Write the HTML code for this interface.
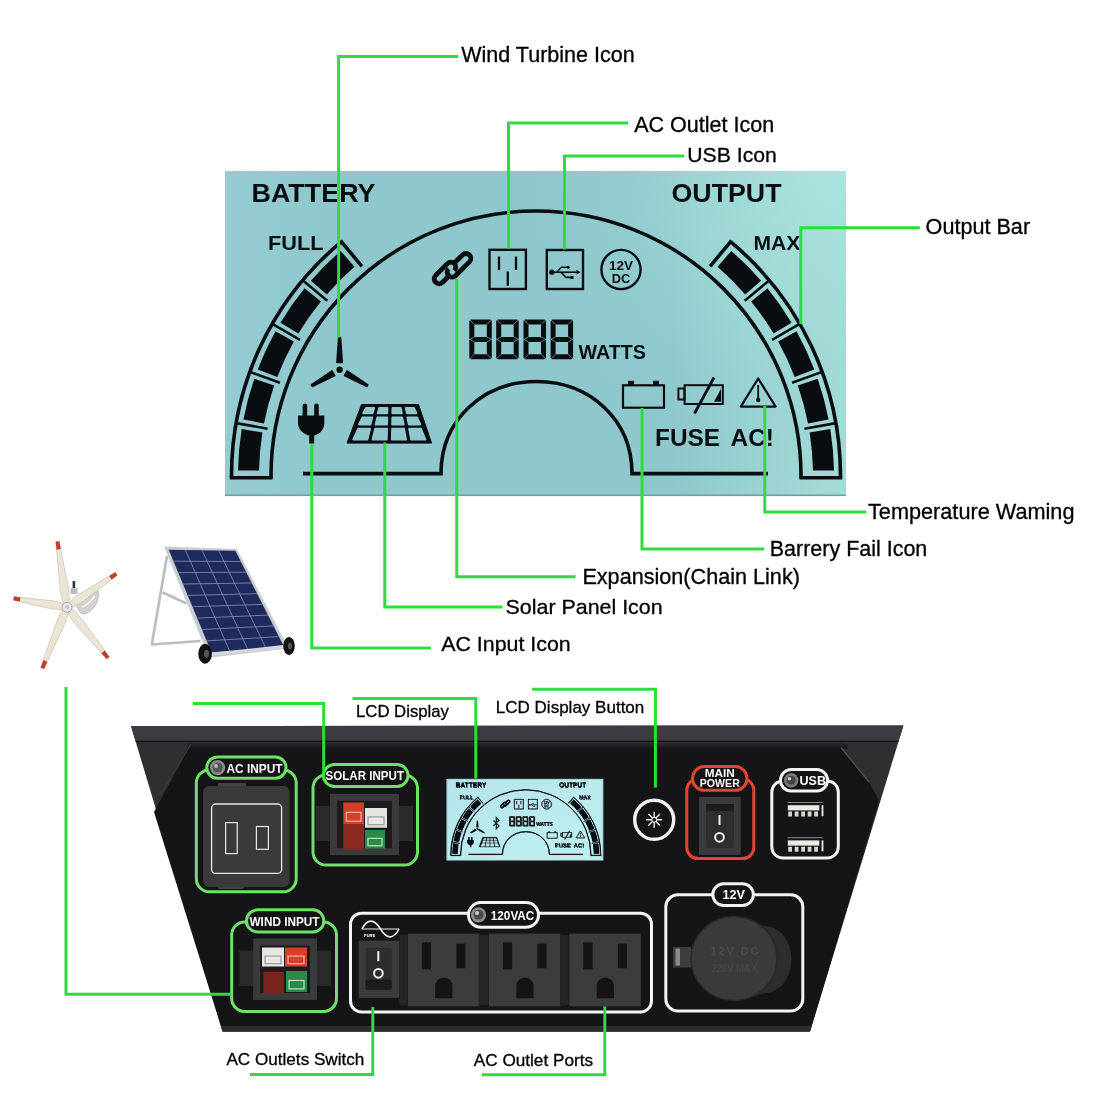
<!DOCTYPE html><html><head><meta charset="utf-8"><style>html,body{margin:0;padding:0;background:#fff;}svg{display:block;will-change:transform}.lb{stroke:#0a0d10;stroke-width:3.6;fill:none}.ld{stroke:#0a0d10;stroke-width:2.6;fill:none}.li{stroke:#0a0d10;stroke-width:2.4}.b{font-family:"Liberation Sans",sans-serif;font-weight:700;fill:#0a0d10}.lab{font-family:"Liberation Sans",sans-serif;font-weight:400;fill:#000;stroke:#000;stroke-width:0.3}.gl{stroke:#2edc3c;stroke-width:3;fill:none;stroke-linecap:square}.cell{fill:var(--cell);stroke:var(--cell);stroke-width:2;stroke-linejoin:round}.gapl{stroke:var(--cell)}.wt{font-family:"Liberation Sans",sans-serif;font-weight:700;fill:#fff}</style></head><body>
<svg width="1096" height="1096" viewBox="0 0 1096 1096">
<defs><linearGradient id="lcdg" x1="0" y1="1" x2="1" y2="0"><stop offset="0" stop-color="#93cbd1"/><stop offset="0.45" stop-color="#8cc5c8"/><stop offset="1" stop-color="#a8e1dc"/></linearGradient><linearGradient id="slcd" x1="0" y1="0" x2="1" y2="1"><stop offset="0" stop-color="#b4e4ea"/><stop offset="1" stop-color="#bff0f0"/></linearGradient><g id="lcdart"><path d="M231.5,477.8 L231.5,476.0 A304.5,304.5 0 0 1 341.5,241.7" class="lb"/>
<line x1="340.5" y1="240.6" x2="361.9" y2="266.3" class="lb"/>
<line x1="229.8" y1="477.8" x2="272.7" y2="477.8" class="lb"/>
<line x1="236.1" y1="423.1" x2="267.6" y2="428.7" class="ld"/>
<line x1="249.9" y1="371.9" x2="279.9" y2="382.8" class="ld"/>
<line x1="272.3" y1="323.8" x2="300.0" y2="339.8" class="ld"/>
<line x1="302.7" y1="280.3" x2="327.3" y2="300.8" class="ld"/>
<path d="M238.0,470.5 A298,298 0 0 1 241.7,429.1 L262.4,432.4 A277,277 0 0 0 259.0,470.5 Z" fill="#0a0d10"/>
<path d="M243.4,419.4 A298,298 0 0 1 254.3,378.7 L274.2,385.6 A277,277 0 0 0 264.0,423.4 Z" fill="#0a0d10"/>
<path d="M257.7,369.4 A298,298 0 0 1 275.5,331.3 L293.8,341.5 A277,277 0 0 0 277.3,377.0 Z" fill="#0a0d10"/>
<path d="M280.4,322.7 A298,298 0 0 1 304.6,288.3 L320.9,301.5 A277,277 0 0 0 298.4,333.5 Z" fill="#0a0d10"/>
<path d="M310.9,280.7 A298,298 0 0 1 340.7,250.9 L354.5,266.8 A277,277 0 0 0 326.8,294.5 Z" fill="#0a0d10"/>
<path d="M840.5,477.8 L840.5,476.0 A304.5,304.5 0 0 0 730.5,241.7" class="lb"/>
<line x1="731.5" y1="240.6" x2="710.1" y2="266.3" class="lb"/>
<line x1="842.2" y1="477.8" x2="799.3" y2="477.8" class="lb"/>
<line x1="835.9" y1="423.1" x2="804.4" y2="428.7" class="ld"/>
<line x1="822.1" y1="371.9" x2="792.1" y2="382.8" class="ld"/>
<line x1="799.7" y1="323.8" x2="772.0" y2="339.8" class="ld"/>
<line x1="769.3" y1="280.3" x2="744.7" y2="300.8" class="ld"/>
<path d="M834.0,470.5 A298,298 0 0 0 830.3,429.1 L809.6,432.4 A277,277 0 0 1 813.0,470.5 Z" fill="#0a0d10"/>
<path d="M828.6,419.4 A298,298 0 0 0 817.7,378.7 L797.8,385.6 A277,277 0 0 1 808.0,423.4 Z" fill="#0a0d10"/>
<path d="M814.3,369.4 A298,298 0 0 0 796.5,331.3 L778.2,341.5 A277,277 0 0 1 794.7,377.0 Z" fill="#0a0d10"/>
<path d="M791.6,322.7 A298,298 0 0 0 767.4,288.3 L751.1,301.5 A277,277 0 0 1 773.6,333.5 Z" fill="#0a0d10"/>
<path d="M761.1,280.7 A298,298 0 0 0 731.3,250.9 L717.5,266.8 A277,277 0 0 1 745.2,294.5 Z" fill="#0a0d10"/>
<path d="M271,477.8 L271,476 A265,265 0 0 1 801,476 L801,477.8" class="lb"/>
<path d="M303,473.6 L441,473.6 C441,420 483,381.5 536.5,381.5 C590,381.5 632,420 632,473.6 L768,473.6" class="lb" stroke-width="3.6"/>
<text x="251.5" y="201.6" class="b" font-size="26.6" textLength="124" lengthAdjust="spacingAndGlyphs">BATTERY</text>
<text x="671.5" y="201.5" class="b" font-size="26.1" textLength="110" lengthAdjust="spacingAndGlyphs">OUTPUT</text>
<text x="268" y="250" class="b" font-size="21" textLength="55.5" lengthAdjust="spacingAndGlyphs">FULL</text>
<text x="753.5" y="249.9" class="b" font-size="20" textLength="46.8" lengthAdjust="spacingAndGlyphs">MAX</text>
<text x="578.5" y="358.8" class="b" font-size="20.5" textLength="67.5" lengthAdjust="spacingAndGlyphs">WATTS</text>
<text x="655" y="446.2" class="b" font-size="23.6" textLength="65" lengthAdjust="spacingAndGlyphs">FUSE</text>
<text x="730.5" y="446.2" class="b" font-size="23.4" textLength="43.5" lengthAdjust="spacingAndGlyphs">AC!</text>
<g fill="#0a0d10"><path d="M471.3,319.5 H489.8 Q491.8,319.5 491.8,321.5 V357.2 Q491.8,359.2 489.8,359.2 H471.3 Q469.3,359.2 469.3,357.2 V321.5 Q469.3,319.5 471.3,319.5 Z M474.3,324.5 V336.9 H486.8 V324.5 Z M474.3,341.9 V354.2 H486.8 V341.9 Z" fill-rule="evenodd"/><path d="M469.3,319.5 L474.3,324.5 M491.8,319.5 L486.8,324.5 M469.3,359.2 L474.3,354.2 M491.8,359.2 L486.8,354.2 M469.3,339.2 L474.3,341.9 M469.3,339.6 L474.3,336.9 M491.8,339.2 L486.8,341.9 M491.8,339.6 L486.8,336.9" class="gapl" stroke-width="0.6" fill="none"/><path d="M498.2,319.5 H516.7 Q518.7,319.5 518.7,321.5 V357.2 Q518.7,359.2 516.7,359.2 H498.2 Q496.2,359.2 496.2,357.2 V321.5 Q496.2,319.5 498.2,319.5 Z M501.2,324.5 V336.9 H513.7 V324.5 Z M501.2,341.9 V354.2 H513.7 V341.9 Z" fill-rule="evenodd"/><path d="M496.2,319.5 L501.2,324.5 M518.7,319.5 L513.7,324.5 M496.2,359.2 L501.2,354.2 M518.7,359.2 L513.7,354.2 M496.2,339.2 L501.2,341.9 M496.2,339.6 L501.2,336.9 M518.7,339.2 L513.7,341.9 M518.7,339.6 L513.7,336.9" class="gapl" stroke-width="0.6" fill="none"/><path d="M525.5,319.5 H544.0 Q546.0,319.5 546.0,321.5 V357.2 Q546.0,359.2 544.0,359.2 H525.5 Q523.5,359.2 523.5,357.2 V321.5 Q523.5,319.5 525.5,319.5 Z M528.5,324.5 V336.9 H541.0 V324.5 Z M528.5,341.9 V354.2 H541.0 V341.9 Z" fill-rule="evenodd"/><path d="M523.5,319.5 L528.5,324.5 M546.0,319.5 L541.0,324.5 M523.5,359.2 L528.5,354.2 M546.0,359.2 L541.0,354.2 M523.5,339.2 L528.5,341.9 M523.5,339.6 L528.5,336.9 M546.0,339.2 L541.0,341.9 M546.0,339.6 L541.0,336.9" class="gapl" stroke-width="0.6" fill="none"/><path d="M552.6,319.5 H571.1 Q573.1,319.5 573.1,321.5 V357.2 Q573.1,359.2 571.1,359.2 H552.6 Q550.6,359.2 550.6,357.2 V321.5 Q550.6,319.5 552.6,319.5 Z M555.6,324.5 V336.9 H568.1 V324.5 Z M555.6,341.9 V354.2 H568.1 V341.9 Z" fill-rule="evenodd"/><path d="M550.6,319.5 L555.6,324.5 M573.1,319.5 L568.1,324.5 M550.6,359.2 L555.6,354.2 M573.1,359.2 L568.1,354.2 M550.6,339.2 L555.6,341.9 M550.6,339.6 L555.6,336.9 M573.1,339.2 L568.1,341.9 M573.1,339.6 L568.1,336.9" class="gapl" stroke-width="0.6" fill="none"/></g>
<rect x="489.5" y="249.8" width="36.4" height="39.2" fill="none" class="li"/>
<path d="M499,256.6 V270 M516,256.6 V270 M507.8,271.6 V285.7" stroke="#0a0d10" stroke-width="2.3" fill="none"/>
<rect x="546.8" y="250" width="36.2" height="39" fill="none" class="li"/>
<g stroke="#0a0d10" stroke-width="1.6" fill="none"><path d="M552,272.2 H578"/><path d="M556.5,272.2 L561.5,267.3 H567.5"/><path d="M561,272.2 L566,277.4 H571.5"/></g>
<g fill="#0a0d10"><circle cx="551.8" cy="272.2" r="2.6"/><circle cx="568.2" cy="267.2" r="1.5"/><rect x="570.5" y="276" width="3" height="3"/><path d="M576.5,269.8 L580.5,272.2 L576.5,274.6 Z"/></g>
<circle cx="621" cy="269.5" r="19.6" fill="none" class="li"/>
<text x="621" y="269.6" class="b" font-size="13.4" text-anchor="middle" textLength="24" lengthAdjust="spacingAndGlyphs">12V</text>
<text x="621" y="283.2" class="b" font-size="12.8" text-anchor="middle">DC</text>
<g transform="translate(452.2 269.3) rotate(-45)" fill="none" stroke="#0a0d10" stroke-width="4.8"><path d="M3.5,-2.9000000000000004 L17.4,-2.9000000000000004 A4.9,4.9 0 0 1 17.4,6.9 L-2.2,6.9 A4.9,4.9 0 0 1 -2.2,-2.9000000000000004"/><path d="M-4.5,2.4000000000000004 L-16.0,2.4000000000000004 A4.9,4.9 0 0 1 -16.0,-7.4 L0.6,-7.4 A4.9,4.9 0 0 1 0.6,2.4000000000000004"/></g>
<g fill="#0a0d10"><circle cx="339.6" cy="369.7" r="3.2"/><path id="wb" d="M338.6,337.6 L340.6,337.6 L342.4,362.6 L336.8,362.6 Z" stroke="#0a0d10" stroke-width="1.4" stroke-linejoin="round"/><use href="#wb" transform="rotate(120 339.6 369.7)"/><use href="#wb" transform="rotate(240 339.6 369.7)"/></g>
<g fill="#0a0d10"><rect x="302.6" y="403.5" width="4.6" height="14" rx="2.3"/><rect x="314.2" y="403.5" width="4.6" height="14" rx="2.3"/><path d="M298,415.5 H324.3 V423 C324.3,430 319,434.5 314.2,435.5 V443.5 H309.2 V435.5 C304,434.5 298,430 298,423 Z"/></g>
<path d="M361.5,404.5 H418.5 L431.6,443.1 H347 Z" fill="#0a0d10" stroke="#0a0d10" stroke-width="1" stroke-linejoin="round"/><path d="M366.0,407.9 L374.1,407.9 L372.6,413.2 L363.3,413.2 Z" class="cell"/><path d="M379.3,407.9 L387.4,407.9 L387.2,413.2 L377.8,413.2 Z" class="cell"/><path d="M392.6,407.9 L400.6,407.9 L401.8,413.2 L392.4,413.2 Z" class="cell"/><path d="M405.8,407.9 L413.9,407.9 L416.4,413.2 L407.0,413.2 Z" class="cell"/><path d="M362.4,417.6 L372.2,417.6 L370.4,424.4 L359.0,424.4 Z" class="cell"/><path d="M377.4,417.6 L387.2,417.6 L387.0,424.4 L375.6,424.4 Z" class="cell"/><path d="M392.4,417.6 L402.2,417.6 L403.6,424.4 L392.2,424.4 Z" class="cell"/><path d="M407.4,417.6 L417.2,417.6 L420.2,424.4 L408.8,424.4 Z" class="cell"/><path d="M358.1,428.8 L370.0,428.8 L367.4,439.6 L353.3,439.6 Z" class="cell"/><path d="M375.2,428.8 L387.0,428.8 L386.7,439.6 L372.6,439.6 Z" class="cell"/><path d="M392.2,428.8 L404.0,428.8 L406.0,439.6 L391.9,439.6 Z" class="cell"/><path d="M409.2,428.8 L421.0,428.8 L425.4,439.6 L411.2,439.6 Z" class="cell"/>
<rect x="623" y="385.3" width="41" height="22.4" fill="none" stroke="#0a0d10" stroke-width="2.2"/><rect x="628" y="380.8" width="6" height="4" fill="#0a0d10"/><rect x="653" y="380.8" width="6" height="4" fill="#0a0d10"/>
<rect x="684.6" y="385.2" width="38.2" height="18.8" fill="none" stroke="#0a0d10" stroke-width="2"/><rect x="678.4" y="388.5" width="6" height="11" fill="none" stroke="#0a0d10" stroke-width="2"/><path d="M714,401.8 L721,388.8 L721,401.8 Z" fill="#0a0d10"/><path d="M714,377.5 L694.5,413.5" stroke="#0a0d10" stroke-width="2.8"/>
<path d="M758.2,378.5 L775.6,406.6 L740.8,406.6 Z" fill="none" stroke="#0a0d10" stroke-width="2.2" stroke-linejoin="round"/><path d="M758.2,385 V398" stroke="#0a0d10" stroke-width="1.8"/><circle cx="758.2" cy="400" r="2.2" fill="#0a0d10"/></g><linearGradient id="lcdh" x1="0" y1="0" x2="1" y2="0"><stop offset="0" stop-color="#94ccd2"/><stop offset="0.15" stop-color="#8ec8cc"/><stop offset="0.72" stop-color="#8ec8cc"/><stop offset="1" stop-color="#a4ddd8"/></linearGradient><radialGradient id="lcdr" gradientUnits="userSpaceOnUse" cx="846" cy="171" r="330"><stop offset="0" stop-color="#aae4de" stop-opacity="1"/><stop offset="0.45" stop-color="#a2dcd8" stop-opacity="0.6"/><stop offset="1" stop-color="#8ec8cc" stop-opacity="0"/></radialGradient><linearGradient id="bevg" x1="0" y1="0" x2="0" y2="1"><stop offset="0" stop-color="#2e2e30"/><stop offset="1" stop-color="#151517"/></linearGradient></defs>
<rect x="0" y="0" width="1096" height="1096" fill="#fff"/>
<rect x="225" y="171" width="621" height="325" fill="url(#lcdh)"/>
<rect x="225" y="171" width="621" height="325" fill="url(#lcdr)"/>
<rect x="225" y="494.5" width="621" height="1.6" fill="#7a9a9c"/>
<use href="#lcdart" style="--cell:#8ec8cc"/>
<path d="M456.7,56.6 L338.6,56.6 L338.6,336" class="gl"/>
<path d="M626.6,123 L508.5,123 L508.5,247" class="gl"/>
<path d="M682.7,156.1 L564.5,156.1 L564.5,248" class="gl"/>
<path d="M918.4,227.8 L800.8,227.8 L800.8,322.5" class="gl"/>
<path d="M311.8,445.5 L311.8,647.9 L429.4,647.9" class="gl"/>
<path d="M384.8,444 L384.8,607 L501,607" class="gl"/>
<path d="M456.8,280 L456.8,576.7 L574,576.7" class="gl"/>
<path d="M642,409.5 L642,549 L762.7,549" class="gl"/>
<path d="M764.8,407.5 L764.8,512 L864.7,512" class="gl"/>
<text x="461.2" y="61.8" class="lab" font-size="21.3" textLength="173.5" lengthAdjust="spacingAndGlyphs">Wind Turbine Icon</text>
<text x="634.2" y="132.2" class="lab" font-size="21.2" textLength="140" lengthAdjust="spacingAndGlyphs">AC Outlet Icon</text>
<text x="687.3" y="161.8" class="lab" font-size="20.8" textLength="89.5" lengthAdjust="spacingAndGlyphs">USB Icon</text>
<text x="925.6" y="234.4" class="lab" font-size="21.2" textLength="104.5" lengthAdjust="spacingAndGlyphs">Output Bar</text>
<text x="868" y="519.1" class="lab" font-size="21.4" textLength="206.5" lengthAdjust="spacingAndGlyphs">Temperature Waming</text>
<text x="769.8" y="555.6" class="lab" font-size="21.2" textLength="157.5" lengthAdjust="spacingAndGlyphs">Barrery Fail Icon</text>
<text x="582.4" y="583.5" class="lab" font-size="21.4" textLength="217.5" lengthAdjust="spacingAndGlyphs">Expansion(Chain Link)</text>
<text x="505.6" y="614.2" class="lab" font-size="21.1" textLength="157" lengthAdjust="spacingAndGlyphs">Solar Panel Icon</text>
<text x="441.2" y="651" class="lab" font-size="21.1" textLength="129.5" lengthAdjust="spacingAndGlyphs">AC Input Icon</text>
<g><path d="M76,604 C84,601 92,594 98,591 C100,600 94,612 84,614 C80,614 78,610 76,604 Z" fill="#d2d2d2" stroke="#b0b0b0" stroke-width="0.8"/><path d="M82,607 C87,605 92,600 95,596" stroke="#f4f4f4" stroke-width="1.6" fill="none"/><rect x="72.6" y="581" width="2.6" height="10" fill="#333"/><rect x="70.5" y="588" width="7" height="6" fill="#bbb"/><path d="M69.4,602.9 L68.8,590.2 L64.3,567.4 L59.3,541.2 L55.7,541.8 L58.3,568.2 L60.5,591.5 L63.5,603.8 Z" fill="#ebe5d5" stroke="#c9c0aa" stroke-width="0.7" stroke-linejoin="round"/><path d="M60.7,549.1 L59.3,541.2 L55.7,541.8 L56.6,549.7 Z" fill="#c23a2e"/><path d="M71.6,607.8 L81.7,602.4 L98.3,589.7 L117.3,575.3 L115.3,572.3 L94.9,584.7 L77.0,595.5 L68.3,602.8 Z" fill="#ebe5d5" stroke="#c9c0aa" stroke-width="0.7" stroke-linejoin="round"/><path d="M111.6,579.6 L117.3,575.3 L115.3,572.3 L109.2,576.1 Z" fill="#c23a2e"/><path d="M67.1,612.2 L74.0,622.6 L89.3,639.6 L106.6,659.1 L109.4,656.9 L93.9,635.8 L80.5,617.3 L71.8,608.5 Z" fill="#ebe5d5" stroke="#c9c0aa" stroke-width="0.7" stroke-linejoin="round"/><path d="M101.4,653.2 L106.6,659.1 L109.4,656.9 L104.7,650.6 Z" fill="#c23a2e"/><path d="M62.7,609.8 L57.0,621.0 L49.5,642.7 L40.7,667.5 L44.1,668.9 L55.0,645.0 L64.7,624.1 L68.3,612.1 Z" fill="#ebe5d5" stroke="#c9c0aa" stroke-width="0.7" stroke-linejoin="round"/><path d="M43.4,660.1 L40.7,667.5 L44.1,668.9 L47.3,661.7 Z" fill="#c23a2e"/><path d="M64.3,603.8 L54.4,600.9 L35.5,599.0 L14.0,596.6 L13.4,600.2 L34.5,604.9 L53.0,609.2 L63.3,609.7 Z" fill="#ebe5d5" stroke="#c9c0aa" stroke-width="0.7" stroke-linejoin="round"/><path d="M20.4,597.4 L14.0,596.6 L13.4,600.2 L19.8,601.5 Z" fill="#c23a2e"/><circle cx="67" cy="607.3" r="5" fill="#e4e6e8" stroke="#a8a8a8" stroke-width="1"/><circle cx="67" cy="607.3" r="2" fill="#c8c8c8"/></g>
<g fill="none" stroke="#b9bcc0" stroke-width="2.6" stroke-linejoin="round"><path d="M167,556 L151.8,644.5 L200,641"/><path d="M162.5,592.4 L186.5,603.5"/></g><path d="M164,546.6 L236.9,549 L288.5,648.5 L209,657.8 Z" fill="#c9ccd0"/><path d="M168.7,549.8 L235.4,550.8 L284.3,647.3 L211.4,652.3 Z" fill="#1f2b5c"/><path d="M185.4,550.0 L229.6,651.0 M202.1,550.3 L247.9,649.8 M218.7,550.5 L266.1,648.5 M173.4,561.2 L240.8,561.5 M178.2,572.6 L246.3,572.2 M182.9,584.0 L251.7,583.0 M187.7,595.4 L257.1,593.7 M192.4,606.7 L262.6,604.4 M197.2,618.1 L268.0,615.1 M201.9,629.5 L273.4,625.9 M206.7,640.9 L278.9,636.6" stroke="#7d88ad" stroke-width="0.9" fill="none"/><path d="M209,654.5 L288,646" stroke="#d6d8db" stroke-width="3"/><ellipse cx="205.1" cy="653.7" rx="6.8" ry="10" fill="#111"/><ellipse cx="206.5" cy="653.7" rx="2.5" ry="4" fill="#555"/><ellipse cx="289" cy="645.9" rx="5.8" ry="9" fill="#111"/><ellipse cx="290" cy="645.9" rx="2" ry="3.5" fill="#555"/>
<path d="M131,726 L903.4,725.5 L810,1031.6 L222.6,1031.6 Z" fill="#2f2f32"/><path d="M131,726 L903.4,725.5 L898.8,740.8 L135.4,740.8 Z" fill="#3c3c40"/><path d="M135.4,740.8 L898.8,740.8 L898.4,742 L135.8,742 Z" fill="#151517"/><path d="M191,744 L841,747.5 L869,782 L879,801 L810,1031.6 L222.6,1031.6 L154,812 Z" fill="#151517"/><path d="M186,742 L846,742 L848,749 L190,749 Z" fill="url(#bevg)"/><path d="M222.6,1031.6 L810,1031.6 L811.7,1026 L220.8,1026 Z" fill="#2e2e30"/><path d="M841,747.5 L869,782" stroke="#555558" stroke-width="1.2"/><path d="M191,744 L160,795" stroke="#3a3a3c" stroke-width="1.2"/><rect x="196.3" y="770" width="99.89999999999998" height="121.79999999999995" rx="13" fill="none" stroke="#6fe06a" stroke-width="3"/><rect x="206.8" y="757" width="79.19999999999999" height="21.200000000000045" rx="10.600000000000023" fill="#141416" stroke="#6fe06a" stroke-width="3"/><circle cx="217.6" cy="767.6" r="7.6" fill="#8c8c8c"/><circle cx="217.6" cy="767.6" r="5" fill="#555"/><circle cx="216" cy="766" r="2" fill="#bbb"/><text x="226.5" y="773.2" class="wt" font-size="13" textLength="56" lengthAdjust="spacingAndGlyphs">AC INPUT</text><rect x="218" y="783" width="28" height="6" rx="1" fill="#444"/><rect x="218" y="882" width="26" height="7" rx="2" fill="#444"/><rect x="203.1" y="786" width="86.5" height="100.9" rx="6" fill="#3a3a3c"/><rect x="211.6" y="804" width="70" height="69.4" rx="4" fill="none" stroke="#e8e8e8" stroke-width="1.3"/><rect x="225.6" y="822.6" width="11.6" height="31" fill="none" stroke="#e8e8e8" stroke-width="1.2"/><rect x="256.4" y="826.5" width="12" height="22.8" fill="none" stroke="#e8e8e8" stroke-width="1.2"/><rect x="313" y="775" width="104.5" height="90" rx="13" fill="none" stroke="#6fe06a" stroke-width="3"/><rect x="323.5" y="764.5" width="84.5" height="22.0" rx="11.0" fill="#141416" stroke="#6fe06a" stroke-width="3"/><text x="325.5" y="779.8" class="wt" font-size="13" textLength="78.5" lengthAdjust="spacingAndGlyphs">SOLAR INPUT</text><rect x="316" y="805.8" width="97" height="35.3" fill="#2a2a2c"/><rect x="330" y="793.8" width="69" height="61.3" fill="#3b3b3d"/><rect x="337" y="800.8" width="55" height="47.3" fill="#1c1c1e"/><rect x="343.3" y="802.5" width="20.7" height="22" fill="#d6402a"/><rect x="346.3" y="812.4" width="14.7" height="8.8" fill="none" stroke="#f6b0a0" stroke-width="1.2"/><rect x="343.3" y="824.5" width="20.7" height="25" fill="#8c2a20"/><rect x="365" y="808" width="22" height="19.7" fill="#e8e6e0"/><rect x="368" y="816.865" width="16" height="7.88" fill="none" stroke="#9a9a9a" stroke-width="1.2"/><rect x="365" y="830" width="20" height="18.5" fill="#2a8a4a"/><rect x="368" y="838.325" width="14" height="7.4" fill="none" stroke="#b6e6c0" stroke-width="1.2"/><rect x="231.7" y="922" width="104.80000000000001" height="89.39999999999998" rx="13" fill="none" stroke="#6fe06a" stroke-width="3"/><rect x="246.5" y="909.8" width="77.30000000000001" height="22.200000000000045" rx="11.100000000000023" fill="#141416" stroke="#6fe06a" stroke-width="3"/><text x="249.5" y="926" class="wt" font-size="13" textLength="70" lengthAdjust="spacingAndGlyphs">WIND INPUT</text><rect x="239.2" y="950.5" width="91.8" height="35.4" fill="#2a2a2c"/><rect x="253.2" y="938.5" width="63.8" height="61.4" fill="#3b3b3d"/><rect x="260.2" y="945.5" width="49.8" height="47.4" fill="#1c1c1e"/><rect x="262" y="947.5" width="22" height="19" fill="#e8e6e0"/><rect x="265" y="956.05" width="16" height="7.6000000000000005" fill="none" stroke="#9a9a9a" stroke-width="1.2"/><rect x="285" y="947.5" width="22" height="19" fill="#d6402a"/><rect x="288" y="956.05" width="16" height="7.6000000000000005" fill="none" stroke="#f6b0a0" stroke-width="1.2"/><rect x="263.4" y="971.8" width="20.6" height="21.7" fill="#7a2420"/><rect x="286" y="971" width="21" height="21" fill="#2a8a4a"/><rect x="289" y="980.45" width="15" height="8.4" fill="none" stroke="#b6e6c0" stroke-width="1.2"/><rect x="446.4" y="778.8" width="157" height="81.8" fill="#9cc9cc"/><rect x="447.4" y="779.8" width="155" height="80" fill="url(#slcd)"/><g transform="translate(393.7 737.7) scale(0.246)"><use href="#lcdart" style="--cell:#b4e8ec"/><use href="#lcdart" transform="translate(1.6 1.4)" style="--cell:#b4e8ec"/></g><path d="M493.5,820.5 L499,826 L496.3,828.6 V817.6 L499,820.2 L493.5,825.7" fill="none" stroke="#1a2a2c" stroke-width="1.3"/><circle cx="654.2" cy="819.8" r="19.5" fill="#151517" stroke="#f2f2f2" stroke-width="3.4"/><path d="M662.2,819.8 L646.2,819.8 M659.9,825.5 L648.5,814.1 M654.2,827.8 L654.2,811.8 M648.5,825.5 L659.9,814.1" stroke="#f4f4f4" stroke-width="1.4"/><circle cx="654.2" cy="819.8" r="2.4" fill="#151517" stroke="#f4f4f4" stroke-width="1"/><rect x="686.8" y="779" width="67" height="79.6" rx="11" fill="none" stroke="#e3452f" stroke-width="3"/><rect x="692.5" y="766.5" width="54.5" height="23.8" rx="11.9" fill="#141416" stroke="#e3452f" stroke-width="3"/><text x="719.8" y="776.8" class="wt" font-size="10.2" text-anchor="middle" textLength="30" lengthAdjust="spacingAndGlyphs">MAIN</text><text x="719.8" y="787.2" class="wt" font-size="10.2" text-anchor="middle" textLength="40" lengthAdjust="spacingAndGlyphs">POWER</text><rect x="699" y="796.8" width="41.7" height="58" fill="#3b3b3e"/><rect x="706" y="804" width="28" height="44" rx="2" fill="#2e2e31"/><rect x="706" y="804" width="28" height="7" fill="#1d1d1f"/><rect x="718.5" y="815" width="2" height="10" fill="#f0f0f0"/><circle cx="719.5" cy="837.3" r="4.4" fill="none" stroke="#f0f0f0" stroke-width="2"/><rect x="771.8" y="781" width="66.5" height="77" rx="11" fill="none" stroke="#f4f4f4" stroke-width="3"/><rect x="780.5" y="769.5" width="47" height="21.5" rx="10.75" fill="#141416" stroke="#f4f4f4" stroke-width="3"/><circle cx="791.2" cy="780.3" r="7.2" fill="#7a7a7a"/><circle cx="791.2" cy="780.3" r="4.5" fill="#444"/><circle cx="789.5" cy="778.8" r="1.8" fill="#ccc"/><text x="799.5" y="785" class="wt" font-size="13" textLength="26.5" lengthAdjust="spacingAndGlyphs">USB</text><rect x="787.5" y="802" width="35" height="1" fill="#8a8a8a"/><rect x="787.8" y="805.2" width="31.5" height="5.2" fill="#ecebe6"/><rect x="821.6" y="805.2" width="1.8" height="11" fill="#ecebe6"/><rect x="788.2" y="811.5" width="3.8" height="5" fill="#d8d6d0"/><rect x="794.7" y="811.5" width="3.8" height="5" fill="#d8d6d0"/><rect x="801.2" y="811.5" width="3.8" height="5" fill="#d8d6d0"/><rect x="807.7" y="811.5" width="3.8" height="5" fill="#d8d6d0"/><rect x="814.2" y="811.5" width="3.8" height="5" fill="#d8d6d0"/><rect x="787.5" y="837.2" width="35" height="1" fill="#8a8a8a"/><rect x="787.8" y="840.4" width="31.5" height="5.2" fill="#ecebe6"/><rect x="821.6" y="840.4" width="1.8" height="11" fill="#ecebe6"/><rect x="788.2" y="846.7" width="3.8" height="5" fill="#d8d6d0"/><rect x="794.7" y="846.7" width="3.8" height="5" fill="#d8d6d0"/><rect x="801.2" y="846.7" width="3.8" height="5" fill="#d8d6d0"/><rect x="807.7" y="846.7" width="3.8" height="5" fill="#d8d6d0"/><rect x="814.2" y="846.7" width="3.8" height="5" fill="#d8d6d0"/><rect x="350.5" y="913.2" width="301" height="98.8" rx="11" fill="none" stroke="#f4f4f4" stroke-width="3"/><rect x="468.5" y="902.6" width="70" height="24.6" rx="12.3" fill="#141416" stroke="#f4f4f4" stroke-width="3"/><circle cx="478.5" cy="914.8" r="7.6" fill="#8a8a8a"/><circle cx="478.5" cy="914.8" r="5" fill="#4a4a4a"/><circle cx="477" cy="913" r="2" fill="#ccc"/><text x="490.8" y="919.6" class="wt" font-size="13" textLength="43.5" lengthAdjust="spacingAndGlyphs">120VAC</text><path d="M362,929 C367.5,918.5 374,918.5 380.5,929 C387,939.5 393.5,939.5 399,929" fill="none" stroke="#eee" stroke-width="1.6"/><path d="M362,929 H399" stroke="#eee" stroke-width="1.2"/><text x="364" y="936.5" class="wt" font-size="4">PURE</text><rect x="358.6" y="940.6" width="40.6" height="57.3" fill="#3b3b3e"/><rect x="365.6" y="947.7" width="26.1" height="42" rx="2" fill="#2e2e31"/><rect x="365.6" y="979.8" width="26.1" height="10" rx="1.5" fill="#1b1b1d"/><rect x="377.3" y="951.2" width="2" height="10" fill="#f0f0f0"/><circle cx="378.4" cy="973.3" r="4.4" fill="none" stroke="#f0f0f0" stroke-width="2"/><rect x="407.8" y="933.6" width="71.5" height="72.8" fill="#3c3c3e"/><rect x="421.8" y="942.4" width="9.2" height="27" fill="#141416"/><rect x="456.3" y="943.6" width="9.2" height="24.6" fill="#141416"/><path d="M435.2,998.3 V986 A8.6,8.6 0 0 1 452.4,986 V998.3 Z" fill="#141416"/><rect x="488.9" y="933.6" width="71.5" height="72.8" fill="#3c3c3e"/><rect x="502.9" y="942.4" width="9.2" height="27" fill="#141416"/><rect x="537.4" y="943.6" width="9.2" height="24.6" fill="#141416"/><path d="M516.3,998.3 V986 A8.6,8.6 0 0 1 533.5,986 V998.3 Z" fill="#141416"/><rect x="569.3" y="933.6" width="71.5" height="72.8" fill="#3c3c3e"/><rect x="583.3" y="942.4" width="9.2" height="27" fill="#141416"/><rect x="617.8" y="943.6" width="9.2" height="24.6" fill="#141416"/><path d="M596.7,998.3 V986 A8.6,8.6 0 0 1 613.9,986 V998.3 Z" fill="#141416"/><rect x="478.5" y="935" width="10" height="70" fill="#262628"/><rect x="560.8" y="935" width="8" height="70" fill="#262628"/><rect x="399.5" y="935" width="8" height="70" fill="#262628"/><rect x="665.8" y="894.8" width="137" height="116.2" rx="12" fill="none" stroke="#f4f4f4" stroke-width="3"/><rect x="712.8" y="883.8" width="40.6" height="21.6" rx="10.8" fill="#141416" stroke="#f4f4f4" stroke-width="3"/><text x="722.4" y="899.2" class="wt" font-size="13" textLength="22.5" lengthAdjust="spacingAndGlyphs">12V</text><rect x="673" y="947" width="18" height="20.5" fill="#3d3d3f"/><rect x="675.5" y="948.5" width="4.5" height="17" fill="#8a8a8a"/><path d="M736,916 L765,926 A26,33.6 0 0 1 765,993 L736,1001.8 Z" fill="#2b2b2d"/><ellipse cx="765" cy="959.5" rx="26.5" ry="33.6" fill="#2d2d2f"/><ellipse cx="734" cy="958.5" rx="43" ry="42" fill="#3b3b3d" stroke="#2a2a2c" stroke-width="1.5"/><text x="734.4" y="955" font-family="Liberation Sans" font-weight="700" font-size="11" fill="#4c4c4e" text-anchor="middle" textLength="48" lengthAdjust="spacing">12V DC</text><text x="734.4" y="972" font-family="Liberation Sans" font-weight="700" font-size="10" fill="#464648" text-anchor="middle" textLength="46" lengthAdjust="spacing">220V MAX</text>
<path d="M66,688.5 L66,994.2 L229.8,994.2" class="gl"/><path d="M194.2,703.5 L323.7,703.5 L323.7,778" class="gl"/><path d="M354,698.4 L475.8,698.4 L475.8,777" class="gl"/><path d="M533.6,689.2 L655.4,689.2 L655.4,786" class="gl"/><path d="M251.5,1074.5 L372.8,1074.5 L372.8,1008.5" class="gl"/><path d="M483.5,1074.8 L604.8,1074.8 L604.8,1008" class="gl"/>
<text x="356" y="717.4" class="lab" font-size="16.7" textLength="93" lengthAdjust="spacingAndGlyphs">LCD Display</text>
<text x="495.8" y="713.3" class="lab" font-size="16.8" textLength="148.5" lengthAdjust="spacingAndGlyphs">LCD Display Button</text>
<text x="226.4" y="1065.2" class="lab" font-size="16.9" textLength="138" lengthAdjust="spacingAndGlyphs">AC Outlets Switch</text>
<text x="473.8" y="1065.6" class="lab" font-size="16.9" textLength="119.2" lengthAdjust="spacingAndGlyphs">AC Outlet Ports</text>
</svg></body></html>
